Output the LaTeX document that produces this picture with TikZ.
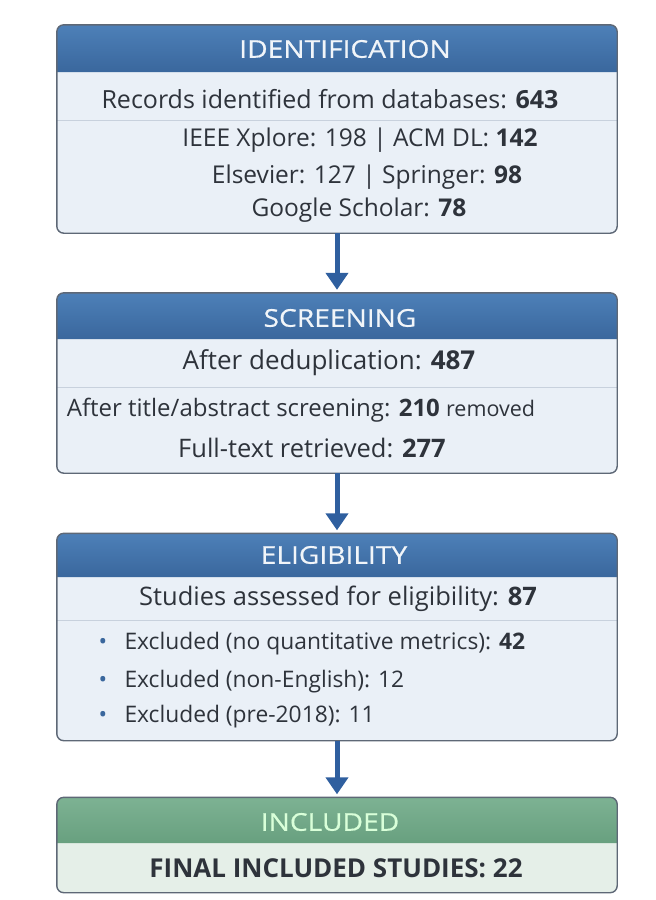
\documentclass[tikz,border=0pt]{standalone}
\usepackage{fontspec}
\setmainfont{Open Sans}
\newfontfamily\hdrfont[FakeStretch=1.15, FakeBold=0.6]{Open Sans}
\usetikzlibrary{arrows.meta}
\definecolor{hdrtop}{HTML}{4D80B8}
\definecolor{hdrbot}{HTML}{3A679D}
\definecolor{grntop}{HTML}{7DB293}
\definecolor{grnbot}{HTML}{68A07F}
\definecolor{bodyblue}{HTML}{EAF0F7}
\definecolor{bodygreen}{HTML}{E5EFE8}
\definecolor{rimgray}{HTML}{5E6876}
\definecolor{sepgray}{HTML}{C8D1DD}
\definecolor{txtgray}{HTML}{2E333B}
\definecolor{arrblue}{HTML}{2F5F9F}
\begin{document}
\begin{tikzpicture}[x=1pt, y=-1pt,
  panel/.style={rounded corners=7pt, minimum width=560pt, inner sep=0pt},
  rim/.style={draw=rimgray, line width=1.4pt, rounded corners=7pt},
  hdrtext/.style={text=white!92!hdrtop, font=\hdrfont\fontsize{24.5}{28}\selectfont},
  bodytext/.style={text=txtgray, font=\fontsize{24.5}{28}\selectfont},
  flow/.style={-{Triangle[width=22pt,length=17pt]}, arrblue, line width=5pt, shorten >=3pt},
  rule/.style={sepgray, line width=1pt}]
\useasboundingbox (0,0) rectangle (656,900);

% Identification
\node[panel, fill=bodyblue, minimum height=208pt] (idbox) at (337,129) {};
\shade[top color=hdrtop, bottom color=hdrbot] (idbox.west |- 0,72)
  {[rounded corners=7pt] -- (idbox.north west) -- (idbox.north east)} -- (idbox.east |- 0,72) -- cycle;
\draw[rule] (idbox.west |- 0,120) -- (idbox.east |- 0,120);
\draw[rim] (idbox.north west) rectangle (idbox.south east);
\node[hdrtext] (idhead) at (345,49) {IDENTIFICATION};
\node[bodytext, font=\fontsize{25}{28}\selectfont] (idrec) at (330,99) {Records identified from databases: \textbf{643}};
\node[bodytext] (idsrc1) at (360,140) {IEEE Xplore: 198 | ACM DL: \textbf{142}};
\node[bodytext] (idsrc2) at (367,177) {Elsevier: 127 | Springer: \textbf{98}};
\node[bodytext] (idsrc3) at (359,210) {Google Scholar: \textbf{78}};

% Screening
\node[panel, fill=bodyblue, minimum height=180pt] (scbox) at (337,383) {};
\shade[top color=hdrtop, bottom color=hdrbot] (scbox.west |- 0,339)
  {[rounded corners=7pt] -- (scbox.north west) -- (scbox.north east)} -- (scbox.east |- 0,339) -- cycle;
\draw[rule] (scbox.west |- 0,387) -- (scbox.east |- 0,387);
\draw[rim] (scbox.north west) rectangle (scbox.south east);
\node[hdrtext] (schead) at (340,318) {SCREENING};
\node[bodytext, font=\fontsize{26}{28}\selectfont] (scdedup) at (329,363) {After deduplication: \textbf{487}};
\node[bodytext, font=\fontsize{24}{28}\selectfont] (sctitle) at (301,410) {After title/abstract screening: \textbf{210} {\fontsize{21.5}{24}\selectfont removed}};
\node[bodytext, font=\fontsize{25.5}{28}\selectfont] (scfull) at (312,448) {Full-text retrieved: \textbf{277}};

% Eligibility
\node[panel, fill=bodyblue, minimum height=207pt] (elbox) at (337,637) {};
\shade[top color=hdrtop, bottom color=hdrbot] (elbox.west |- 0,577)
  {[rounded corners=7pt] -- (elbox.north west) -- (elbox.north east)} -- (elbox.east |- 0,577) -- cycle;
\draw[rule] (elbox.west |- 0,620) -- (elbox.east |- 0,620);
\draw[rim] (elbox.north west) rectangle (elbox.south east);
\node[hdrtext] (elhead) at (334,555) {ELIGIBILITY};
\node[bodytext, font=\fontsize{25.5}{28}\selectfont] (elassess) at (338,599) {Studies assessed for eligibility: \textbf{87}};
\node[bodytext, font=\fontsize{22.8}{28}\selectfont, anchor=west] (elex1) at (95,644) {\makebox[26pt][l]{\textcolor{hdrbot}{•}}Excluded (no quantitative metrics): \textbf{42}};
\node[bodytext, font=\fontsize{22.8}{28}\selectfont, anchor=west] (elex2) at (95,682) {\makebox[26pt][l]{\textcolor{hdrbot}{•}}Excluded (non-English): 12};
\node[bodytext, font=\fontsize{22.8}{28}\selectfont, anchor=west] (elex3) at (95,717) {\makebox[26pt][l]{\textcolor{hdrbot}{•}}Excluded (pre-2018): 11};

% Included
\node[panel, fill=bodygreen, minimum height=95pt] (inbox) at (337,845) {};
\shade[top color=grntop, bottom color=grnbot] (inbox.west |- 0,843)
  {[rounded corners=7pt] -- (inbox.north west) -- (inbox.north east)} -- (inbox.east |- 0,843) -- cycle;
\draw[rim] (inbox.north west) rectangle (inbox.south east);
\node[hdrtext, text=white!85!green] (inhead) at (330,822) {INCLUDED};
\node[bodytext, font=\fontsize{26}{28}\selectfont] (infinal) at (336,868) {\textbf{FINAL INCLUDED STUDIES: 22}};

% Flow arrows
\draw[flow] (idbox.south) -- (scbox.north);
\draw[flow] (scbox.south) -- (elbox.north);
\draw[flow] (elbox.south) -- (inbox.north);
\end{tikzpicture}
\end{document}
